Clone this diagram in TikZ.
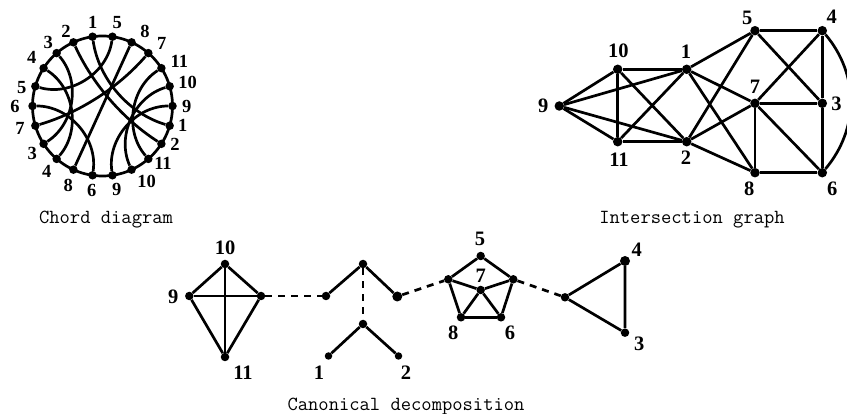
\documentclass[tikz,border=0pt]{standalone}
\usepackage{fontspec}
\newfontfamily\numfont{Liberation Serif}
\usetikzlibrary{calc}
\tikzset{
  dot/.style={circle, fill=black, inner sep=0pt, minimum size=8.5pt},
  bigdot/.style={dot, minimum size=10pt},
  smalldot/.style={dot, minimum size=7.5pt},
  edge/.style={line width=2.7pt},
  dashedge/.style={line width=2.7pt, dash pattern=on 7pt off 6pt},
  clab/.style={inner sep=0pt, font=\fontsize{18.5}{21}\selectfont\numfont\bfseries},
  glab/.style={inner sep=0pt, font=\fontsize{20.5}{23}\selectfont\numfont\bfseries},
  caption/.style={inner sep=0pt, anchor=base, font=\fontsize{20}{24}\selectfont\ttfamily}
}
\newcommand\chordline[3]{\draw[edge] (c#1) .. controls ($(c#1)!#3!(C)$) and ($(c#2)!#3!(C)$) .. (c#2);}
\begin{document}
\begin{tikzpicture}[x=1pt,y=-1pt]
\useasboundingbox (0,0) rectangle (847,414);

% ---------------- Chord diagram ----------------
\coordinate (C) at (102.5,106);
\draw[edge] (C) circle (70);
\foreach \k in {0,...,21}{
  \node[dot, minimum size=8.5pt] (c\k) at ($(C)+({-(98.18+16.3636*\k)}:70)$) {};
}
\chordline{0}{15}{0.609}
\chordline{1}{14}{0.6535}
\chordline{2}{7}{0.528}
\chordline{3}{8}{0.528}
\chordline{4}{21}{0.528}
\chordline{5}{10}{0.528}
\chordline{6}{19}{0.6535}
\chordline{9}{20}{0.667}
\chordline{11}{16}{0.528}
\chordline{12}{17}{0.528}
\chordline{13}{18}{0.528}
\foreach \k/\t/\x/\y in {0/1/92.7/22.7, 1/2/66/31.7, 2/3/48.3/42.7, 3/4/31.7/57.3,
  4/5/21.7/87.3, 5/6/15/106, 6/7/20/128.3, 7/3/32.3/153.3, 8/4/46.7/171.7,
  9/8/68.3/185, 10/6/91.7/190, 11/9/116.7/189.3, 12/10/146.7/181.7,
  13/11/163/163, 14/2/175/144, 15/1/182.7/125, 16/9/186.7/106,
  17/10/187.7/82.7, 18/11/179.3/61.7, 19/7/161.7/43.3, 20/8/145/31.7, 21/5/117.3/22.7}{
  \node[clab] (cl\k) at (\x,\y) {\t};
}
\node[caption] (capA) at (106,223.5) {Chord diagram};

% ---------------- Intersection graph ----------------
\node[dot, minimum size=9.5pt] (g9) at (559.3,106) {};
\node[dot, minimum size=9.5pt] (g10) at (617.7,69.3) {};
\node[dot, minimum size=9.5pt] (g11) at (617.7,141.7) {};
\node[dot, minimum size=9.5pt] (g1) at (686.7,69.3) {};
\node[dot, minimum size=9.5pt] (g2) at (686.7,141.7) {};
\node[dot, minimum size=9.5pt] (g5) at (755,30.7) {};
\node[dot, minimum size=9.5pt] (g4) at (822.3,30.7) {};
\node[dot, minimum size=9.5pt] (g7) at (755,103.3) {};
\node[dot, minimum size=9.5pt] (g3) at (822.3,103.3) {};
\node[dot, minimum size=9.5pt] (g8) at (755,172.7) {};
\node[dot, minimum size=9.5pt] (g6) at (822.3,172.7) {};
\foreach \a/\b in {1/5,1/7,1/8,1/9,1/10,1/11,2/5,2/7,2/8,2/9,2/10,2/11,
  3/4,3/5,3/6,3/7,4/5,4/7,6/7,6/8,7/8,9/10,9/11,10/11}{
  \draw[edge] (g\a) -- (g\b);
}
\draw[edge] (g4) to[bend left=40] (g6);
\node[glab] (gl9) at (543.3,106) {9};
\node[glab] (gl10) at (618.3,51) {10};
\node[glab] (gl11) at (619,160) {11};
\node[glab] (gl1) at (686,52) {1};
\node[glab] (gl2) at (686,158) {2};
\node[glab] (gl5) at (747.3,18.3) {5};
\node[glab] (gl4) at (831.7,16.7) {4};
\node[glab] (gl7) at (755,86.7) {7};
\node[glab] (gl3) at (836.5,104) {3};
\node[glab] (gl8) at (749.3,188.5) {8};
\node[glab] (gl6) at (832.3,188.5) {6};
\node[caption] (capB) at (692,223.5) {Intersection graph};

% ---------------- Canonical decomposition ----------------
\node[dot] (d10) at (225,264) {};
\node[dot] (d9) at (189.3,296) {};
\node[dot] (dA) at (261,296) {};
\node[dot] (d11) at (225,357) {};
\foreach \a/\b in {10/9,10/A,9/A,9/11,A/11,10/11}{\draw[edge] (d\a) -- (d\b);}
\node[glab] (dl10) at (225,247.3) {10};
\node[glab] (dl9) at (173.3,296.7) {9};
\node[glab] (dl11) at (243,373) {11};

\node[dot] (t0) at (363,264) {};
\node[dot] (tL) at (326,296) {};
\node[bigdot] (tR) at (397.3,296.5) {};
\node[dot] (tM) at (363,324) {};
\node[smalldot] (t1) at (328.5,356) {};
\node[smalldot] (t2) at (398.5,356) {};
\draw[edge] (tL) -- (t0) -- (tR);
\draw[edge] (t1) -- (tM) -- (t2);
\draw[dashedge] (t0) -- (tM);
\draw[dashedge] (dA) -- (tL);
\node[glab] (tl1) at (319,373) {1};
\node[glab] (tl2) at (406,373) {2};

\node[dot] (p5) at (480.7,256) {};
\node[dot] (pL) at (448.3,279.3) {};
\node[dot] (pR) at (513.3,279.3) {};
\node[dot] (p7) at (480.7,290) {};
\node[dot] (p8) at (461,317.3) {};
\node[dot] (p6) at (501,317.3) {};
\foreach \a/\b in {5/L,5/R,L/8,R/6,8/6,L/7,R/7,7/8,7/6}{\draw[edge] (p\a) -- (p\b);}
\draw[dashedge] (tR) -- (pL);
\node[glab] (pl5) at (480,239) {5};
\node[glab] (pl7) at (480.7,276) {7};
\node[glab] (pl8) at (453.3,333) {8};
\node[glab] (pl6) at (510,333) {6};

\node[dot] (qM) at (565,297.3) {};
\node[bigdot] (q4) at (625,261) {};
\node[dot] (q3) at (625,332.7) {};
\draw[edge] (qM) -- (q4) -- (q3) -- (qM);
\draw[dashedge] (pR) -- (qM);
\node[glab] (ql4) at (636.7,249.3) {4};
\node[glab] (ql3) at (639.3,344) {3};

\node[caption] (capC) at (406,410.5) {Canonical decomposition};
\end{tikzpicture}
\end{document}
